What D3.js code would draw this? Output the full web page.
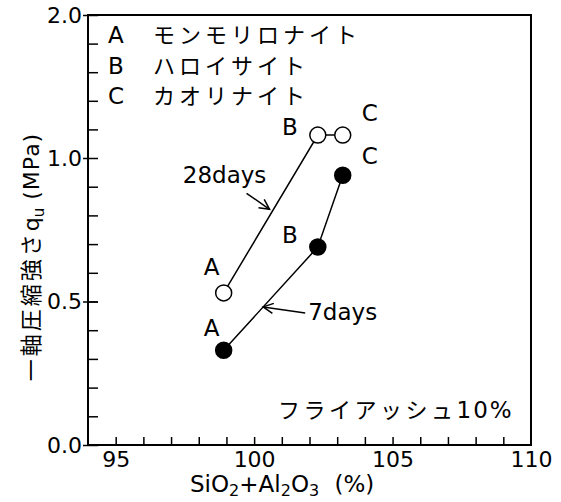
<!DOCTYPE html>
<html>
<head>
<meta charset="utf-8">
<script src="https://cdn.jsdelivr.net/npm/d3@7"></script>
<style>
  body { margin: 0; background: #fff; }
  text { fill: #000; }
</style>
</head>
<body>
<svg id="chart" width="561" height="502"></svg>
<script>
// data
var silicaAlumina = [98.9, 102.3, 103.2];      // SiO2+Al2O3 (%)
var strength28 = [0.53, 1.16, 1.16];           // qu at 28 days (MPa)
var strength7 = [0.33, 0.69, 0.94];            // qu at 7 days (MPa)
var pointKeys = ["A", "B", "C"];
var legendKeys = ["A", "B", "C"];
var legendNames = ["モンモリロナイト", "ハロイサイト", "カオリナイト"];
var xTickLabels = [95, 100, 105, 110];
var yTickLabels = [0.0, 0.5, 1.0, 2.0];
var seriesNames = ["28days", "7days"];
var noteText = "フライアッシュ";
var notePct = "10%";

var latin = "'DejaVu Sans', sans-serif";
var cjk = "'Noto Sans CJK JP', sans-serif";

var svg = d3.select("#chart");

var x = d3.scaleLinear().domain([94, 110]).range([88, 531]);
// the original axis is squeezed above 1.0
var y = d3.scaleLinear().domain([0, 1, 2]).range([445, 158, 15]);

// frame
svg.append("rect")
  .attr("x", x(94)).attr("y", y(2))
  .attr("width", x(110) - x(94)).attr("height", y(0) - y(2))
  .attr("fill", "none").attr("stroke", "#000").attr("stroke-width", 2);

// x axis: inward minor ticks then labels
var xMinor = svg.append("g").attr("transform", "translate(0," + y(0) + ")")
  .call(d3.axisBottom(x).tickValues(d3.range(95, 110)).tickSize(-8).tickFormat(""));
var xLab = svg.append("g").attr("transform", "translate(0," + y(0) + ")")
  .call(d3.axisBottom(x).tickValues(xTickLabels).tickSize(0).tickPadding(6).tickFormat(d3.format("d")));

// y axis
var yMinor = svg.append("g").attr("transform", "translate(" + x(94) + ",0)")
  .call(d3.axisLeft(y).tickValues(d3.range(1, 10).map(function(d) { return d / 10; })
    .concat([1.2, 1.4, 1.6, 1.8])).tickSize(-10).tickFormat(""));
var yLab = svg.append("g").attr("transform", "translate(" + x(94) + ",0)")
  .call(d3.axisLeft(y).tickValues(yTickLabels).tickSize(5).tickPadding(1).tickFormat(d3.format(".1f")));

[xMinor, xLab, yMinor, yLab].forEach(function(g) {
  g.select(".domain").remove();
  g.selectAll("line").attr("stroke", "#000").attr("stroke-width", 1.5);
  g.selectAll("text").attr("font-family", latin).attr("font-size", 22).attr("fill", "#000");
});
yLab.selectAll("line").attr("x2", 10).attr("x1", -5);

// axis titles
var xt = svg.append("text").attr("x", 190).attr("y", 492)
  .attr("font-family", latin).attr("font-size", 23);
xt.append("tspan").text("SiO");
xt.append("tspan").attr("dy", 4).attr("font-size", 16).text("2");
xt.append("tspan").attr("dy", -4).text("+Al");
xt.append("tspan").attr("dy", 4).attr("font-size", 16).text("2");
xt.append("tspan").attr("dy", -4).text("O");
xt.append("tspan").attr("dy", 4).attr("font-size", 16).text("3");
xt.append("tspan").attr("dy", -4).attr("dx", 8).text(" (%)");

var yt = svg.append("text")
  .attr("transform", "translate(39,257) rotate(-90)")
  .attr("text-anchor", "middle").attr("font-size", 22);
yt.append("tspan").attr("font-family", cjk).attr("letter-spacing", 3).text("一軸圧縮強さ");
yt.append("tspan").attr("font-family", latin).text("q");
yt.append("tspan").attr("font-family", latin).attr("dy", 5).attr("font-size", 15).text("u");
yt.append("tspan").attr("font-family", latin).attr("dy", -5).attr("letter-spacing", 1).text(" (MPa)");

// legend
legendKeys.forEach(function(k, i) {
  var yy = 43 + i * 30.5;
  svg.append("text").attr("x", 108).attr("y", yy)
    .attr("font-family", latin).attr("font-size", 23).text(k);
  svg.append("text").attr("x", 153).attr("y", yy)
    .attr("font-family", cjk).attr("font-size", 22).attr("letter-spacing", 4).text(legendNames[i]);
});

// note in lower right
var nt = svg.append("text").attr("x", 278).attr("y", 418);
nt.append("tspan").attr("font-family", cjk).attr("font-size", 22).attr("letter-spacing", 3.5).text(noteText);
nt.append("tspan").attr("font-family", latin).attr("font-size", 23).attr("letter-spacing", 2).text(notePct);

// series
var line = d3.line()
  .x(function(d) { return x(d[0]); })
  .y(function(d) { return y(d[1]); });

var series = [
  { vals: strength28, fill: "#fff", labelOff: [[-12, -18], [-28, 0], [27, -14]] },
  { vals: strength7, fill: "#000", labelOff: [[-12, -14], [-28, -4], [27, -11]] }
];

series.forEach(function(s) {
  var pts = silicaAlumina.map(function(v, i) { return [v, s.vals[i]]; });
  svg.append("path").datum(pts).attr("d", line)
    .attr("fill", "none").attr("stroke", "#000").attr("stroke-width", 1.5);
  svg.selectAll(null).data(pts).enter().append("circle")
    .attr("cx", function(d) { return x(d[0]); })
    .attr("cy", function(d) { return y(d[1]); })
    .attr("r", 8)
    .attr("fill", s.fill).attr("stroke", "#000").attr("stroke-width", 1.5);
  svg.selectAll(null).data(pts).enter().append("text")
    .attr("x", function(d, i) { return x(d[0]) + s.labelOff[i][0]; })
    .attr("y", function(d, i) { return y(d[1]) + s.labelOff[i][1]; })
    .attr("text-anchor", "middle")
    .attr("font-family", latin).attr("font-size", 23)
    .text(function(d, i) { return pointKeys[i]; });
});

// arrows pointing at the lines
svg.append("defs").append("marker")
  .attr("id", "head").attr("markerUnits", "userSpaceOnUse")
  .attr("viewBox", "-12 -6 14 12").attr("refX", 0).attr("refY", 0)
  .attr("markerWidth", 14).attr("markerHeight", 12).attr("orient", "auto")
  .append("path").attr("d", "M-10,-5L0,0L-10,5")
  .attr("fill", "none").attr("stroke", "#000").attr("stroke-width", 1.5);

function along(vals, t) {
  var x0 = x(silicaAlumina[0]), y0 = y(vals[0]);
  var x1 = x(silicaAlumina[1]), y1 = y(vals[1]);
  return [x0 + (x1 - x0) * t, y0 + (y1 - y0) * t];
}

var tip28 = along(strength28, 0.53);
tip28[0] -= 4;
svg.append("line")
  .attr("x1", tip28[0] - 23).attr("y1", tip28[1] - 16)
  .attr("x2", tip28[0]).attr("y2", tip28[1])
  .attr("stroke", "#000").attr("stroke-width", 1.5).attr("marker-end", "url(#head)");
svg.append("text").attr("x", tip28[0] - 45).attr("y", tip28[1] - 26)
  .attr("text-anchor", "middle").attr("font-family", latin).attr("font-size", 23)
  .text(seriesNames[0]);

var tip7 = along(strength7, 0.42);
svg.append("line")
  .attr("x1", tip7[0] + 42).attr("y1", tip7[1] + 6)
  .attr("x2", tip7[0]).attr("y2", tip7[1])
  .attr("stroke", "#000").attr("stroke-width", 1.5).attr("marker-end", "url(#head)");
svg.append("text").attr("x", tip7[0] + 45).attr("y", tip7[1] + 13)
  .attr("font-family", latin).attr("font-size", 23)
  .text(seriesNames[1]);
</script>
</body>
</html>
